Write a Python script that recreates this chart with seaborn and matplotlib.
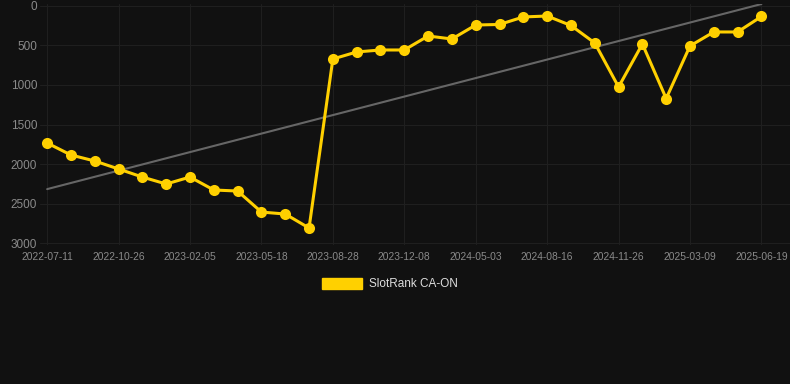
import matplotlib
matplotlib.use("Agg")
import matplotlib.pyplot as plt
import matplotlib.patches as mpatches
import seaborn as sns
import numpy as np
import pandas as pd

# rank values (lower is better, axis inverted)
ranks = [1734, 1886, 1962, 2063, 2165, 2253, 2165, 2329, 2342, 2608, 2633, 2810,
         671, 582, 557, 557, 380, 418, 241, 234, 139, 127, 247, 468,
         1025, 481, 1171, 506, 329, 329, 133]
tick_labels = ['2022-07-11', '2022-10-26', '2023-02-05', '2023-05-18', '2023-08-28',
               '2023-12-08', '2024-05-03', '2024-08-16', '2024-11-26', '2025-03-09',
               '2025-06-19']
series_name = 'SlotRank CA-ON'

df = pd.DataFrame({'idx': np.arange(len(ranks)), 'rank': ranks})

sns.set_style('dark')
plt.rcParams['font.family'] = ['Liberation Sans', 'DejaVu Sans']

fig = plt.figure(figsize=(7.9, 3.84), dpi=100, facecolor='#111111')
ax = fig.add_axes([40 / 790, 1 - 245 / 384, 750 / 790, 241 / 384])
ax.set_facecolor('#111111')

# trend line (linear fit)
k, b = np.polyfit(df['idx'], df['rank'], 1)
ax.plot(df['idx'], k * df['idx'] + b, color='#666666', lw=1.5, zorder=2)

sns.lineplot(data=df, x='idx', y='rank', ax=ax, color='#FFD000', lw=2.2,
             marker='o', markersize=8, markeredgewidth=0, zorder=3)

ax.set_xlim(-0.3, len(ranks) - 1 + 1.2)
ax.set_ylim(3025, -25)
ax.set_yticks([0, 500, 1000, 1500, 2000, 2500, 3000])
ax.set_xticks(df['idx'][::3])
ax.set_xticklabels(tick_labels)
ax.tick_params(axis='y', colors='#8a8a8a', labelsize=8.5, length=0, pad=2)
ax.tick_params(axis='x', colors='#8a8a8a', labelsize=7.4, length=0, pad=5)
ax.grid(True, color='#1f1f1f', lw=0.8)
for s in ax.spines.values():
    s.set_visible(False)
ax.set_xlabel('')
ax.set_ylabel('')

handle = mpatches.Patch(color='#FFD000', label=series_name)
fig.legend(handles=[handle], loc='center', bbox_to_anchor=(390 / 790, 1 - 284 / 384),
           frameon=False, labelcolor='#dddddd', fontsize=8.5,
           handlelength=3.4, handleheight=1.1, handletextpad=0.6)

fig.savefig('out.png', dpi=100, facecolor='#111111')
